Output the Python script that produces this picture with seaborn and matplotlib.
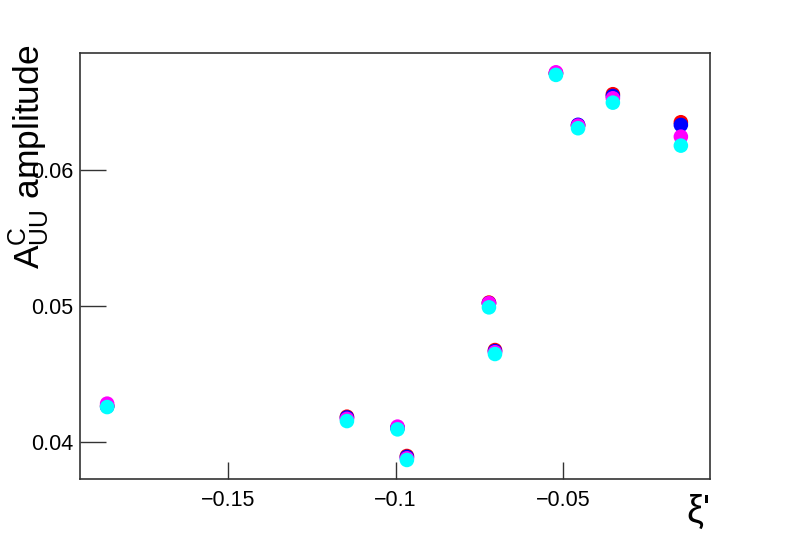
import pandas as pd
import seaborn as sns
import matplotlib.pyplot as plt

# values
xi = [-0.1861, -0.1145, -0.0994, -0.0966, -0.0721, -0.0703, -0.0521, -0.0455, -0.0351, -0.0148]
amp_red = [0.04265, 0.04186, 0.04105, 0.03897, 0.05025, 0.04676, 0.06712, 0.06328, 0.06557, 0.06351]
amp_blue = [0.04262, 0.04180, 0.04105, 0.03890, 0.05020, 0.04668, 0.06710, 0.06332, 0.06544, 0.06331]
amp_magenta = [0.04282, 0.04170, 0.04113, 0.03880, 0.05020, 0.04660, 0.06718, 0.06326, 0.06527, 0.06245]
amp_cyan = [0.04257, 0.04154, 0.04093, 0.03868, 0.04990, 0.04647, 0.06699, 0.06307, 0.06495, 0.06179]

x_ticks = [-0.15, -0.1, -0.05]
x_ticklabels = ['\u22120.15', '\u22120.1', '\u22120.05']
y_ticks = [0.04, 0.05, 0.06]
y_ticklabels = ['0.04', '0.05', '0.06']

series = {'red': amp_red, 'blue': amp_blue, 'magenta': amp_magenta, 'cyan': amp_cyan}
df = pd.concat([pd.DataFrame({'xi': xi, 'amp': v, 'set': k}) for k, v in series.items()],
               ignore_index=True)

sns.set_style('white')
plt.rcParams['font.family'] = ['Liberation Sans', 'DejaVu Sans']
plt.rcParams['mathtext.fontset'] = 'custom'
plt.rcParams['mathtext.rm'] = 'Liberation Sans'
plt.rcParams['mathtext.it'] = 'Liberation Sans'
plt.rcParams['text.color'] = 'black'

fig = plt.figure(figsize=(7.89, 5.33), dpi=100)
ax = fig.add_axes([80 / 789, 1 - 479 / 533, 630 / 789, 426 / 533])

sns.scatterplot(data=df, x='xi', y='amp', hue='set',
                palette={'red': 'red', 'blue': 'blue', 'magenta': 'magenta', 'cyan': 'cyan'},
                s=110, linewidth=0, legend=False, ax=ax)

ax.set_xlim(-0.1942, -0.0061)
ax.set_ylim(0.03728, 0.0686)
ax.set_xticks(x_ticks)
ax.set_xticklabels(x_ticklabels)
ax.set_yticks(y_ticks)
ax.set_yticklabels(y_ticklabels)
ax.tick_params(axis='x', bottom=True, direction='in', length=12, width=1, color='#333333',
               labelsize=15.5, labelcolor='black', pad=8)
ax.tick_params(axis='y', left=True, direction='in', length=19, width=1, color='#333333',
               labelsize=15.5, labelcolor='black', pad=5)
for sp in ax.spines.values():
    sp.set_color('#333333')
    sp.set_linewidth(1.2)
ax.set_xlabel('')
ax.set_ylabel('')

fig.text(29 / 789, 1 - 45 / 533, r'$\mathrm{A}^{\mathrm{C}}_{\mathrm{UU}}$ amplitude',
         rotation=90, ha='center', va='top', fontsize=25.5, color='black')
fig.text(710 / 789, 1 - 494 / 533, "\u03be'", ha='right', va='top', fontsize=27, color='black')

fig.savefig('out.png', dpi=100)
